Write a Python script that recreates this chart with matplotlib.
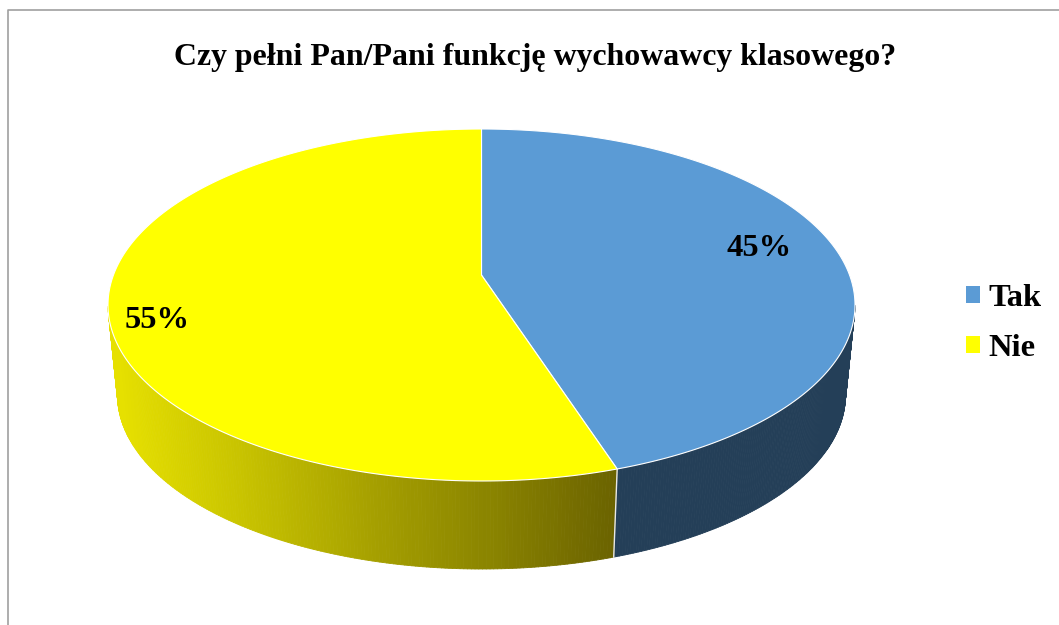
import numpy as np
import matplotlib
matplotlib.use("Agg")
import matplotlib.pyplot as plt
from matplotlib.collections import PolyCollection
from matplotlib.colors import LinearSegmentedColormap
from matplotlib.patches import Patch

title = "Czy pełni Pan/Pani funkcję wychowawcy klasowego?"
categories = ["Tak", "Nie"]
shares = [45, 55]
labels = ["45%", "55%"]

TOP_COLORS = ["#5B9BD5", "#FFFF00"]
SERIF = ["Liberation Serif", "DejaVu Serif"]

# pie projection, in image pixels
CX, CY, A, B = 481.5, 305.0, 373.5, 176.0      # top ellipse
BX, BY, BA, BB = 481.5, 395.0, 364.0, 174.0    # bottom ellipse
K = -0.17                                       # perspective

fig = plt.figure(figsize=(10.59, 6.25), dpi=100, facecolor="white")
ax = fig.add_axes([0, 0, 1, 1])
ax.set_xlim(0, 1059)
ax.set_ylim(625, 0)
ax.axis("off")


def project(theta):
    """Clockwise angle from the top of the pie to unit-ellipse coordinates."""
    x, s = np.sin(theta), -np.cos(theta)
    d = 1 + K * s
    return x * np.sqrt(1 - K ** 2) / d, (s + K) / d


def top_pt(u, v):
    return np.column_stack([CX + A * u, CY + B * v])


def bottom_pt(u, v):
    return np.column_stack([BX + BA * u, BY + BB * v])


ax.plot([8, 8, 1059], [625, 9.5, 9.5], color="#A0A0A0", lw=1.2, zorder=1)

edges = np.cumsum([0] + shares) / sum(shares) * 2 * np.pi
yellow_side = LinearSegmentedColormap.from_list(
    "side", ["#E6E000", "#C8C300", "#A8A200", "#8A8400", "#6B6300"])

# side wall
for i in range(len(shares)):
    th = np.linspace(edges[i], edges[i + 1], 400)
    u, v = project(th)
    keep = v >= 0
    t, b = top_pt(u[keep], v[keep]), bottom_pt(u[keep], v[keep])
    quads = [[t[j], t[j + 1], b[j + 1], b[j]] for j in range(len(t) - 1)]
    if i == 0:
        cols = ["#243F58"] * len(quads)
    else:
        xm = np.array([q[0][0] for q in quads])
        cols = [yellow_side(c) for c in np.clip((xm - 115) / (618 - 115), 0, 1)]
    ax.add_collection(PolyCollection(quads, facecolors=cols, edgecolors=cols,
                                     linewidths=0.6, zorder=2))

# divider on the wall
ub, vb = project(edges[1])
pa, pb = top_pt(ub, vb)[0], bottom_pt(ub, vb)[0]
ax.plot([pa[0], pb[0]], [pa[1], pb[1]], color="#E8E8E8", lw=1.0, zorder=3)

# top face
apex = np.array([[CX, CY + B * K]])
for i in range(len(shares)):
    th = np.linspace(edges[i], edges[i + 1], 400)
    u, v = project(th)
    poly = np.vstack([apex, top_pt(u, v)])
    ax.fill(poly[:, 0], poly[:, 1], facecolor=TOP_COLORS[i], edgecolor="white",
            lw=0.8, joinstyle="round", zorder=4)

# data labels
for txt, (lx, ly) in zip(labels, [(759, 248), (157, 321)]):
    ax.text(lx, ly, txt, family=SERIF, weight="bold", fontsize=23.4,
            ha="center", va="center", color="black", zorder=5)

ax.text(535, 58, title, family=SERIF, weight="bold", fontsize=22.95,
        ha="center", va="center", color="black", zorder=5)

handles = [Patch(facecolor=c, edgecolor="none") for c in TOP_COLORS]
ax.legend(handles, categories, loc="center left", bbox_to_anchor=(0.9125, 0.482),
          frameon=False, prop={"family": SERIF, "weight": "bold", "size": 23.4},
          handlelength=0.43, handleheight=0.43, handletextpad=0.26,
          labelspacing=0.64, borderpad=0, borderaxespad=0)

fig.savefig("out.png", dpi=100, facecolor="white")
